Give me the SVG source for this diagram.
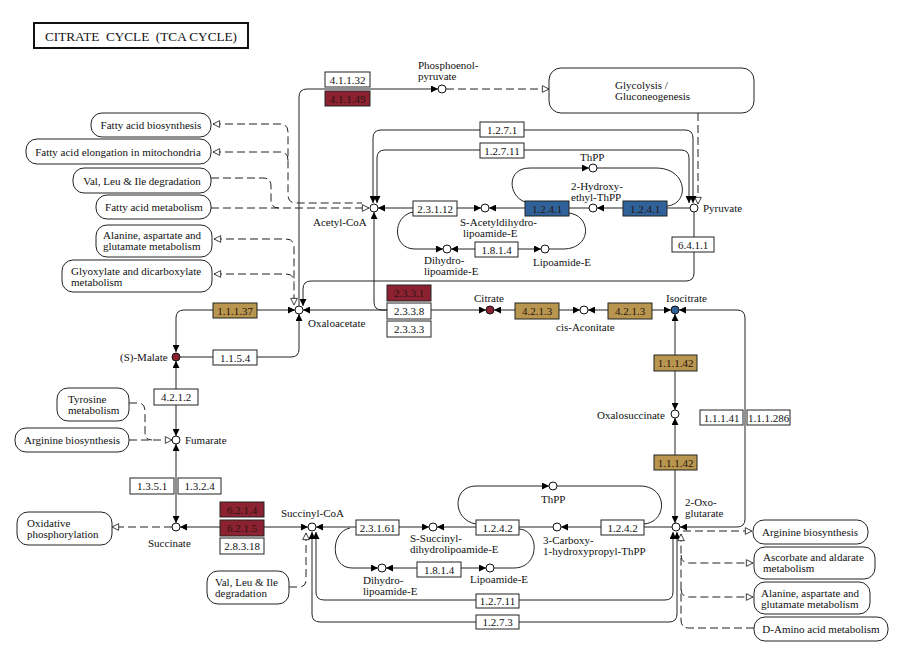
<svg xmlns="http://www.w3.org/2000/svg" width="900" height="650" viewBox="0 0 900 650">
<style>
text{font-family:"Liberation Serif","Times New Roman",serif;font-size:11px;fill:#111}
.e rect{fill:#fff;stroke:#222;stroke-width:1}
.e text{text-anchor:middle}
.e.r rect{fill:#8c2231}
.e.g rect{fill:#b8964f}
.e.b rect{fill:#30629a}
.e.r text,.e.g text,.e.b text{fill:#2a1410}
.c circle{fill:#fff;stroke:#111;stroke-width:1}
.c.r circle{fill:#8c2231}
.c.b circle{fill:#30629a}
.m rect{fill:#fff;stroke:#222;stroke-width:1}
.ln{fill:none;stroke:#222;stroke-width:1}
.dl{fill:none;stroke:#222;stroke-width:1;stroke-dasharray:8 4}
.a{marker-end:url(#ah)}
.aa{marker-start:url(#ah);marker-end:url(#ah)}
.o{marker-end:url(#oh)}
.os{marker-start:url(#oh)}
.oo{marker-start:url(#oh);marker-end:url(#oh)}
</style>
<defs>
<marker id="ah" viewBox="0 0 10 10" refX="10" refY="5" markerWidth="8" markerHeight="7" markerUnits="userSpaceOnUse" orient="auto-start-reverse"><path d="M0,0 L10,5 L0,10 z" fill="#000"/></marker>
<marker id="oh" viewBox="0 0 12 12" refX="11" refY="6" markerWidth="9" markerHeight="8" markerUnits="userSpaceOnUse" orient="auto-start-reverse"><path d="M1,1 L11,6 L1,11 z" fill="#fff" stroke="#222" stroke-width="1.3"/></marker>
</defs>
<rect width="900" height="650" fill="#fff"/>
<g id="title">
<rect x="34" y="23" width="214" height="25" fill="#fff" stroke="#111" stroke-width="2"/>
<text x="45" y="41" style="font-size:13px" xml:space="preserve" textLength="192" lengthAdjust="spacingAndGlyphs">CITRATE  CYCLE  (TCA CYCLE)</text>
</g>
<g id="connectors">
<path class="ln a" d="M299,306 V97 Q299,89 307,89 H438"/>
<path class="dl o" d="M446,89 H549"/>
<path class="dl o" d="M698,113 V204"/>
<path class="ln aa" d="M373,203 V138 Q373,130 381,130 H685 Q693,130 693,138 V203"/>
<path class="ln aa" d="M377,203 V158 Q377,150 385,150 H681 Q689,150 689,158 V203"/>
<path class="ln a" d="M690,208 H597"/>
<path class="ln a" d="M589,208 H489"/>
<path class="ln aa" d="M378,208 H481"/>
<path class="ln a" d="M525,202 C508,196 506,168 530,168 H589"/>
<path class="ln" d="M597,168 H656 C688,168 690,204 667,206"/>
<path class="ln a" d="M413,212 C392,216 392,249 415,249 H443"/>
<path class="ln aa" d="M451,249 H541"/>
<path class="ln" d="M549,249 H563 C592,249 592,216 569,213"/>
<path class="ln a" d="M387,310 H382 Q374,310 374,302 V212"/>
<path class="ln aa" d="M303,310 H486"/>
<path class="ln aa" d="M494,310 H580"/>
<path class="ln aa" d="M588,310 H671"/>
<path class="ln aa" d="M679,310 H737 Q745,310 745,318 V519 Q745,527 737,527 H680"/>
<path class="ln aa" d="M675,314 V410"/>
<path class="ln aa" d="M675,418 V523"/>
<path class="ln a" d="M694,212 V273 Q694,281 686,281 H311 Q303,281 303,289 V306"/>
<path class="dl oo" d="M214,239 H286 Q294,239 294,247 V305"/>
<path class="dl os" d="M214,274 H286 Q294,274 294,282"/>
<path class="ln aa" d="M176,352 V318 Q176,310 184,310 H295"/>
<path class="ln a" d="M180,357 H291 Q299,357 299,349 V314"/>
<path class="ln aa" d="M176,436 V361"/>
<path class="ln aa" d="M176,523 V444"/>
<path class="dl o" d="M129,440 H172"/>
<path class="dl" d="M129,403 H138 Q145,403 145,411 V433 Q145,440 152,440"/>
<path class="ln aa" d="M180,527 H308"/>
<path class="dl o" d="M172,527 H112"/>
<path class="ln aa" d="M316,527 H429"/>
<path class="ln a" d="M553,527 H437"/>
<path class="ln a" d="M672,527 H561"/>
<path class="ln a" d="M476,524 C452,520 452,486 476,486 H549"/>
<path class="ln" d="M557,486 H640 C668,486 668,522 644,524"/>
<path class="ln a" d="M350,528 C330,532 330,568 352,568 H378"/>
<path class="ln aa" d="M386,568 H486"/>
<path class="ln" d="M494,568 H514 C540,568 540,530 519,529"/>
<path class="ln aa" d="M316,532 V592 Q316,600 324,600 H665 Q673,600 673,592 V532"/>
<path class="ln aa" d="M312,532 V614 Q312,622 320,622 H669 Q677,622 677,614 V532"/>
<path class="dl o" d="M289,587 H299 Q306,587 306,580 V533"/>
<path class="dl o" d="M683,531 H752"/>
<path class="dl o" d="M754,628 H689 Q681,628 681,620 V534"/>
<path class="dl o" d="M681,555 Q681,563 689,563 H753"/>
<path class="dl o" d="M681,589 Q681,597 689,597 H753"/>
<path class="dl os" d="M213,124 H280 Q288,124 288,132 V195 Q288,203 296,203 H362"/>
<path class="dl os" d="M213,152 H280 Q288,152 288,160"/>
<path class="dl" d="M211,178 H263 Q271,178 271,186 V200 Q271,208 279,208"/>
<path class="dl o" d="M211,208 H369"/>
</g>
<g id="maps">
<g id="map_glycolysis" class="m"><rect x="549" y="68" width="205" height="45" rx="12"/><text x="615" y="89">Glycolysis /</text><text x="615" y="100">Gluconeogenesis</text></g>
<g id="map_fa_biosynthesis" class="m"><rect x="91" y="113" width="120" height="24" rx="11"/><text x="151" y="129" text-anchor="middle">Fatty acid biosynthesis</text></g>
<g id="map_fa_elongation" class="m"><rect x="26" y="139" width="185" height="25" rx="11"/><text x="118" y="156" text-anchor="middle">Fatty acid elongation in mitochondria</text></g>
<g id="map_vli_top" class="m"><rect x="73" y="168" width="138" height="25" rx="11"/><text x="142" y="185" text-anchor="middle">Val, Leu &amp; Ile degradation</text></g>
<g id="map_fa_metabolism" class="m"><rect x="96" y="195" width="115" height="24" rx="11"/><text x="154" y="211" text-anchor="middle">Fatty acid metabolism</text></g>
<g id="map_ala_left" class="m"><rect x="96" y="225" width="116" height="32" rx="11"/><text x="103" y="239">Alanine, aspartate and</text><text x="103" y="250">glutamate metabolism</text></g>
<g id="map_glyoxylate" class="m"><rect x="62" y="260" width="150" height="32" rx="11"/><text x="71" y="275">Glyoxylate and dicarboxylate</text><text x="71" y="286">metabolism</text></g>
<g id="map_tyrosine" class="m"><rect x="57" y="388" width="72" height="33" rx="11"/><text x="68" y="403">Tyrosine</text><text x="68" y="414">metabolism</text></g>
<g id="map_arg_left" class="m"><rect x="15" y="428" width="114" height="24" rx="11"/><text x="72" y="444" text-anchor="middle">Arginine biosynthesis</text></g>
<g id="map_oxphos" class="m"><rect x="17" y="512" width="95" height="33" rx="11"/><text x="27" y="527">Oxidative</text><text x="27" y="538">phosphorylation</text></g>
<g id="map_vli_bottom" class="m"><rect x="207" y="571" width="82" height="33" rx="11"/><text x="215" y="586">Val, Leu &amp; Ile</text><text x="215" y="597">degradation</text></g>
<g id="map_arg_right" class="m"><rect x="753" y="520" width="115" height="24" rx="11"/><text x="810" y="536" text-anchor="middle">Arginine biosynthesis</text></g>
<g id="map_ascorbate" class="m"><rect x="754" y="547" width="121" height="32" rx="11"/><text x="763" y="561">Ascorbate and aldarate</text><text x="763" y="572">metabolism</text></g>
<g id="map_ala_right" class="m"><rect x="754" y="582" width="116" height="32" rx="11"/><text x="761" y="597">Alanine, aspartate and</text><text x="761" y="608">glutamate metabolism</text></g>
<g id="map_damino" class="m"><rect x="754" y="617" width="134" height="24" rx="11"/><text x="821" y="633" text-anchor="middle">D-Amino acid metabolism</text></g>
</g>
<g id="enzymes">
<g id="ec_4_1_1_32" class="e"><rect x="325" y="72" width="45" height="15"/><text x="347.5" y="83.5">4.1.1.32</text></g>
<g id="ec_4_1_1_49" class="e r"><rect x="325" y="91" width="45" height="15"/><text x="347.5" y="102.5">4.1.1.49</text></g>
<g id="ec_1_2_7_1" class="e"><rect x="480" y="122" width="44" height="15"/><text x="502" y="133.5">1.2.7.1</text></g>
<g id="ec_1_2_7_11_top" class="e"><rect x="480" y="143" width="44" height="15"/><text x="502" y="154.5">1.2.7.11</text></g>
<g id="ec_2_3_1_12" class="e"><rect x="413" y="201" width="44" height="15"/><text x="435" y="212.5">2.3.1.12</text></g>
<g id="ec_1_2_4_1_a" class="e b"><rect x="525" y="201" width="44" height="15"/><text x="547" y="212.5">1.2.4.1</text></g>
<g id="ec_1_2_4_1_b" class="e b"><rect x="623" y="201" width="44" height="15"/><text x="645" y="212.5">1.2.4.1</text></g>
<g id="ec_1_8_1_4_top" class="e"><rect x="475" y="242" width="43" height="15"/><text x="496.5" y="253.5">1.8.1.4</text></g>
<g id="ec_6_4_1_1" class="e"><rect x="672" y="237" width="42" height="15"/><text x="693" y="248.5">6.4.1.1</text></g>
<g id="ec_2_3_3_1" class="e r"><rect x="387" y="285" width="44" height="16"/><text x="409" y="297">2.3.3.1</text></g>
<g id="ec_2_3_3_8" class="e"><rect x="387" y="303" width="44" height="16"/><text x="409" y="315">2.3.3.8</text></g>
<g id="ec_2_3_3_3" class="e"><rect x="387" y="321" width="44" height="16"/><text x="409" y="333">2.3.3.3</text></g>
<g id="ec_4_2_1_3_a" class="e g"><rect x="515" y="303" width="44" height="16"/><text x="537" y="315">4.2.1.3</text></g>
<g id="ec_4_2_1_3_b" class="e g"><rect x="608" y="303" width="44" height="16"/><text x="630" y="315">4.2.1.3</text></g>
<g id="ec_1_1_1_37" class="e g"><rect x="213" y="303" width="44" height="15"/><text x="235" y="314.5">1.1.1.37</text></g>
<g id="ec_1_1_5_4" class="e"><rect x="213" y="350" width="44" height="15"/><text x="235" y="361.5">1.1.5.4</text></g>
<g id="ec_4_2_1_2" class="e"><rect x="154" y="389" width="44" height="16"/><text x="176" y="401">4.2.1.2</text></g>
<g id="ec_1_1_1_42_a" class="e g"><rect x="654" y="355" width="43" height="16"/><text x="675.5" y="367">1.1.1.42</text></g>
<g id="ec_1_1_1_41" class="e"><rect x="700" y="410" width="43" height="15"/><text x="721.5" y="421.5">1.1.1.41</text></g>
<g id="ec_1_1_1_286" class="e"><rect x="747" y="410" width="43" height="15"/><text x="768.5" y="421.5">1.1.1.286</text></g>
<g id="ec_1_1_1_42_b" class="e g"><rect x="654" y="455" width="43" height="15"/><text x="675.5" y="466.5">1.1.1.42</text></g>
<g id="ec_1_3_5_1" class="e"><rect x="130" y="478" width="44" height="16"/><text x="152" y="490">1.3.5.1</text></g>
<g id="ec_1_3_2_4" class="e"><rect x="178" y="478" width="43" height="16"/><text x="199.5" y="490">1.3.2.4</text></g>
<g id="ec_6_2_1_4" class="e r"><rect x="220" y="502" width="44" height="15"/><text x="242" y="513.5">6.2.1.4</text></g>
<g id="ec_6_2_1_5" class="e r"><rect x="220" y="520" width="44" height="16"/><text x="242" y="532">6.2.1.5</text></g>
<g id="ec_2_8_3_18" class="e"><rect x="220" y="538" width="44" height="16"/><text x="242" y="550">2.8.3.18</text></g>
<g id="ec_2_3_1_61" class="e"><rect x="356" y="520" width="43" height="15"/><text x="377.5" y="531.5">2.3.1.61</text></g>
<g id="ec_1_2_4_2_a" class="e"><rect x="476" y="520" width="43" height="15"/><text x="497.5" y="531.5">1.2.4.2</text></g>
<g id="ec_1_2_4_2_b" class="e"><rect x="601" y="520" width="43" height="15"/><text x="622.5" y="531.5">1.2.4.2</text></g>
<g id="ec_1_8_1_4_bottom" class="e"><rect x="417" y="562" width="44" height="15"/><text x="439" y="573.5">1.8.1.4</text></g>
<g id="ec_1_2_7_11_bottom" class="e"><rect x="476" y="594" width="43" height="14"/><text x="497.5" y="605">1.2.7.11</text></g>
<g id="ec_1_2_7_3" class="e"><rect x="476" y="615" width="43" height="14"/><text x="497.5" y="626">1.2.7.3</text></g>
</g>
<g id="compounds">
<g id="c_pep" class="c"><circle cx="442" cy="89" r="4"/><text x="418" y="69">Phosphoenol-</text><text x="418" y="80">pyruvate</text></g>
<g id="c_acetylcoa" class="c"><circle cx="374" cy="208" r="4"/><text x="313" y="226">Acetyl-CoA</text></g>
<g id="c_sacetyl" class="c"><circle cx="485" cy="208" r="4"/><text x="460" y="226">S-Acetyldihydro-</text><text x="463" y="237">lipoamide-E</text></g>
<g id="c_hydroxyethyl" class="c"><circle cx="593" cy="208" r="4"/><text x="571" y="190">2-Hydroxy-</text><text x="571" y="201">ethyl-ThPP</text></g>
<g id="c_pyruvate" class="c"><circle cx="694" cy="208" r="4"/><text x="703" y="212">Pyruvate</text></g>
<g id="c_thpp_top" class="c"><circle cx="593" cy="168" r="4"/><text x="580" y="161">ThPP</text></g>
<g id="c_dihydro_top" class="c"><circle cx="447" cy="249" r="4"/><text x="424" y="264">Dihydro-</text><text x="424" y="275">lipoamide-E</text></g>
<g id="c_lipo_top" class="c"><circle cx="545" cy="249" r="4"/><text x="533" y="266">Lipoamide-E</text></g>
<g id="c_oxaloacetate" class="c"><circle cx="299" cy="310" r="4"/><text x="308" y="327">Oxaloacetate</text></g>
<g id="c_citrate" class="c r"><circle cx="490" cy="310" r="4"/><text x="474" y="302">Citrate</text></g>
<g id="c_cisaconitate" class="c"><circle cx="584" cy="310" r="4"/><text x="556" y="331">cis-Aconitate</text></g>
<g id="c_isocitrate" class="c b"><circle cx="675" cy="310" r="4"/><text x="666" y="302">Isocitrate</text></g>
<g id="c_oxalosuccinate" class="c"><circle cx="675" cy="414" r="4"/><text x="597" y="419">Oxalosuccinate</text></g>
<g id="c_oxoglutarate" class="c"><circle cx="676" cy="527" r="4"/><text x="685" y="506">2-Oxo-</text><text x="685" y="517">glutarate</text></g>
<g id="c_malate" class="c r"><circle cx="176" cy="357" r="4"/><text x="120" y="361">(S)-Malate</text></g>
<g id="c_fumarate" class="c"><circle cx="176" cy="440" r="4"/><text x="185" y="444">Fumarate</text></g>
<g id="c_succinate" class="c"><circle cx="176" cy="527" r="4"/><text x="148" y="547">Succinate</text></g>
<g id="c_succinylcoa" class="c"><circle cx="312" cy="527" r="4"/><text x="281" y="517">Succinyl-CoA</text></g>
<g id="c_ssuccinyl" class="c"><circle cx="433" cy="527" r="4"/><text x="410" y="542">S-Succinyl-</text><text x="410" y="553">dihydrolipoamide-E</text></g>
<g id="c_carboxy" class="c"><circle cx="557" cy="527" r="4"/><text x="543" y="544">3-Carboxy-</text><text x="543" y="555">1-hydroxypropyl-ThPP</text></g>
<g id="c_thpp_bottom" class="c"><circle cx="553" cy="486" r="4"/><text x="541" y="503">ThPP</text></g>
<g id="c_lipo_bottom" class="c"><circle cx="490" cy="568" r="4"/><text x="470" y="583">Lipoamide-E</text></g>
<g id="c_dihydro_bottom" class="c"><circle cx="382" cy="568" r="4"/><text x="363" y="584">Dihydro-</text><text x="363" y="595">lipoamide-E</text></g>
</g>
</svg>
